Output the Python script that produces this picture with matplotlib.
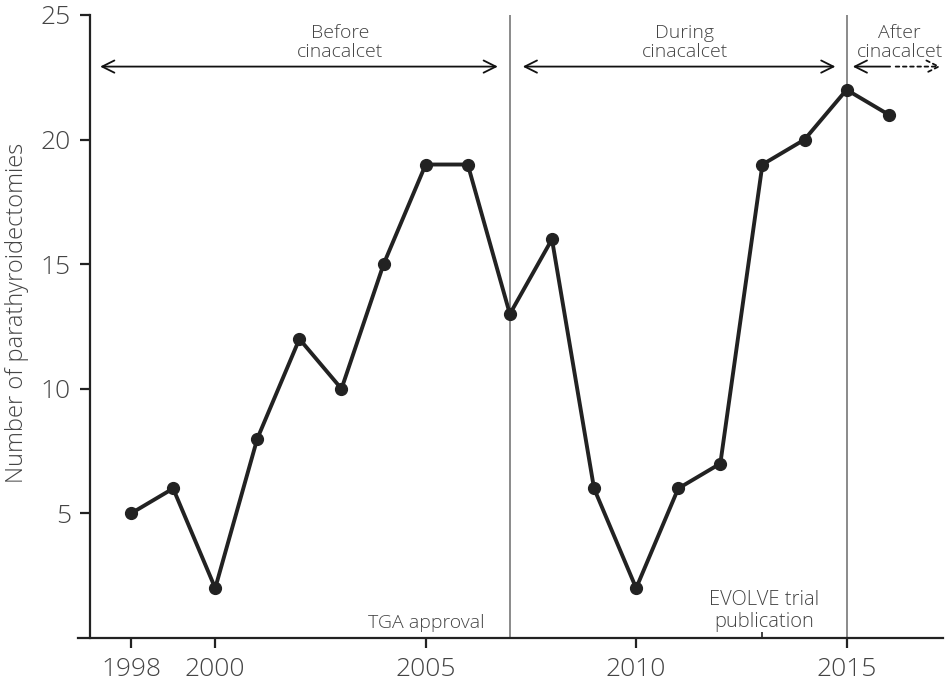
import matplotlib
matplotlib.use("Agg")
import matplotlib.pyplot as plt
from matplotlib.patches import FancyArrowPatch

years = [1998, 1999, 2000, 2001, 2002, 2003, 2004, 2005, 2006, 2007,
         2008, 2009, 2010, 2011, 2012, 2013, 2014, 2015, 2016]
counts = [5, 6, 2, 8, 12, 10, 15, 19, 19, 13,
          16, 6, 2, 6, 7, 19, 20, 22, 21]
xtick_vals = [1998, 2000, 2005, 2010, 2015]
ytick_vals = [5, 10, 15, 20, 25]
event_years = [2007, 2015]

plt.rcParams['font.family'] = ['Open Sans', 'DejaVu Sans']
txt = '#444444'
fw = 'light'

fig = plt.figure(figsize=(9.48, 6.88), dpi=100)
ax = fig.add_axes([78/948, 50/688, (943-78)/948, (673-50)/688])
ax.set_xlim(1996.74, 2017.29)
ax.set_ylim(0, 25)

for s in ['top', 'right']:
    ax.spines[s].set_visible(False)
ax.spines['left'].set_position(('data', 1997.03))
ax.spines['left'].set_linewidth(1.6)
ax.spines['bottom'].set_linewidth(1.6)
ax.spines['left'].set_color('#222222')
ax.spines['bottom'].set_color('#222222')

ax.set_xticks(xtick_vals)
ax.set_yticks(ytick_vals)
ax.set_xticks([2005, 2013], minor=True)
ax.tick_params(axis='both', which='major', length=7, width=1.6, color='#222222',
               labelsize=19, labelcolor=txt, pad=7)
ax.tick_params(axis='x', which='minor', direction='in', length=4, width=1.2, color='#222222')
for lab in ax.get_xticklabels() + ax.get_yticklabels():
    lab.set_fontweight(fw)

for ev in event_years:
    ax.axvline(ev, color='#777777', lw=1.2, zorder=1)

ax.plot(years, counts, color='#222222', lw=2.8, marker='o', markersize=8.5, zorder=3)

ax.set_ylabel('Number of parathyroidectomies', fontsize=17, color=txt, fontweight=fw)
ax.yaxis.set_label_coords(-0.0566, 0.522)

ay = 22.93
def arrow(x0, x1, style='<->', ls='-'):
    a = FancyArrowPatch((x0, ay), (x1, ay), arrowstyle=style, mutation_scale=22,
                        color='#111111', lw=1.3, linestyle=ls)
    ax.add_patch(a)

arrow(1997.2, 2006.78)
arrow(2007.24, 2014.8)
arrow(2015.08, 2016.1, style='<-')
arrow(2016.1, 2017.3, style='->', ls=(0, (2, 2)))

kw = dict(fontsize=14, color=txt, fontweight=fw, ha='center', va='bottom',
          linespacing=1.1)
ax.text(2002.96, 23.15, 'Before\ncinacalcet', **kw)
ax.text(2011.16, 23.15, 'During\ncinacalcet', **kw)
ax.text(2016.26, 23.15, 'After\ncinacalcet', **kw)
ax.text(2006.4, 0.25, 'TGA approval', fontsize=14, color=txt, fontweight=fw,
        ha='right', va='bottom')
ax.text(2013.03, 0.25, 'EVOLVE trial\npublication', fontsize=14.5, color=txt,
        fontweight=fw, ha='center', va='bottom', linespacing=1.1)

fig.savefig('out.png', dpi=100)
